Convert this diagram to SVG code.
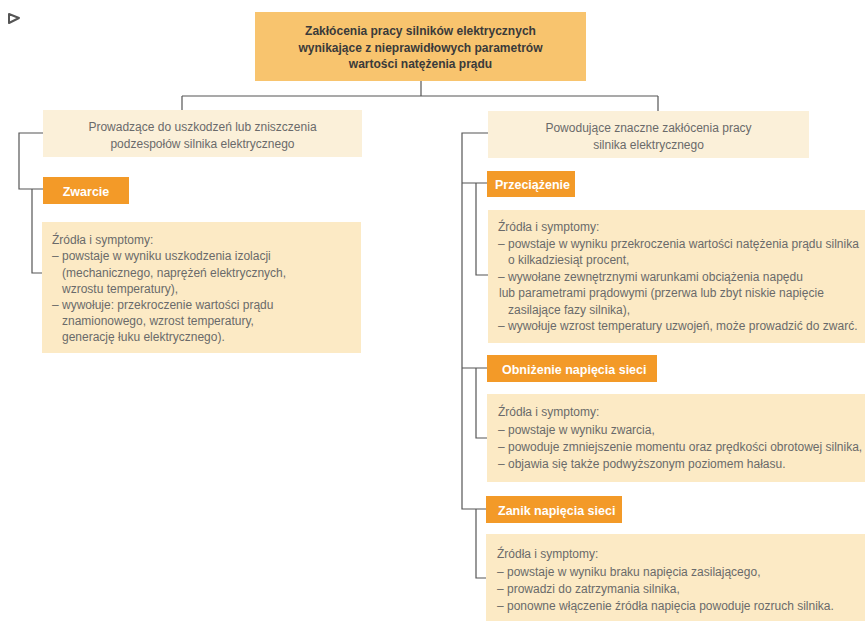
<svg xmlns="http://www.w3.org/2000/svg" width="865" height="621" viewBox="0 0 865 621">
<style>
.title{fill:#F8C46E}
.cat{fill:#FBF0D9}
.lab{fill:#F39A28}
.det{fill:#FCEAC5}
.tt{font-family:"Liberation Sans",Arial,sans-serif;font-size:12px;font-weight:bold;fill:#3a3a3a;text-anchor:middle}
.ct{font-family:"Liberation Sans",Arial,sans-serif;font-size:12px;fill:#6a6a6a;text-anchor:middle}
.lt{font-family:"Liberation Sans",Arial,sans-serif;font-size:12.5px;font-weight:bold;fill:#ffffff}
.dt{font-family:"Liberation Sans",Arial,sans-serif;font-size:12px;fill:#6a6a6a}
.con{fill:none;stroke:#555;stroke-width:1.2}
</style>
<path d="M9,14 L19,18 L9,23 Z" fill="none" stroke="#555" stroke-width="2" stroke-linejoin="round"/>
<g id="connectors" class="con">
<path d="M421,81 V96 M182,96 H658 M182,96 V110 M658,96 V111"/>
<path d="M43,133 H19 V189 H43 M32,189 V273 H42"/>
<path d="M488,133 H462 V509 H486 M462,183 H487 M476,183 V275 H488 M462,368 H487 M476,368 V438 H487 M476,509 V578 H486"/>
</g>
<g id="root">
<rect class="title" x="255" y="12" width="331" height="69"/>
<text class="tt" x="420.5" y="35">Zakłócenia pracy silników elektrycznych</text>
<text class="tt" x="420.5" y="52">wynikające z nieprawidłowych parametrów</text>
<text class="tt" x="420.5" y="68">wartości natężenia prądu</text>
</g>
<g id="cat-left">
<rect class="cat" x="43" y="110" width="319" height="47"/>
<text class="ct" x="202.5" y="131">Prowadzące do uszkodzeń lub zniszczenia</text>
<text class="ct" x="202.5" y="148">podzespołów silnika elektrycznego</text>
</g>
<g id="cat-right">
<rect class="cat" x="488" y="111" width="321" height="47"/>
<text class="ct" x="648.5" y="132">Powodujące znaczne zakłócenia pracy</text>
<text class="ct" x="648.5" y="149">silnika elektrycznego</text>
</g>
<g id="zwarcie">
<rect class="lab" x="43" y="177" width="86" height="27"/>
<text class="lt" x="86" y="195.5" text-anchor="middle">Zwarcie</text>
</g>
<g id="zwarcie-details">
<rect class="det" x="42" y="222" width="319" height="131"/>
<text class="dt" x="52" y="244">Źródła i symptomy:</text>
<text class="dt" x="52" y="260">– powstaje w wyniku uszkodzenia izolacji</text>
<text class="dt" x="62" y="276.5">(mechanicznego, naprężeń elektrycznych,</text>
<text class="dt" x="62" y="292.5">wzrostu temperatury),</text>
<text class="dt" x="52" y="308.5">– wywołuje: przekroczenie wartości prądu</text>
<text class="dt" x="62" y="325">znamionowego, wzrost temperatury,</text>
<text class="dt" x="62" y="341">generację łuku elektrycznego).</text>
</g>
<g id="przeciazenie">
<rect class="lab" x="487" y="171" width="88" height="26"/>
<text class="lt" x="495" y="188.5">Przeciążenie</text>
</g>
<g id="przeciazenie-details">
<rect class="det" x="488" y="210" width="377" height="133"/>
<text class="dt" x="498" y="231">Źródła i symptomy:</text>
<text class="dt" x="498" y="247.5">– powstaje w wyniku przekroczenia wartości natężenia prądu silnika</text>
<text class="dt" x="508" y="264">o kilkadziesiąt procent,</text>
<text class="dt" x="498" y="280.5">– wywołane zewnętrznymi warunkami obciążenia napędu</text>
<text class="dt" x="499" y="297">lub parametrami prądowymi (przerwa lub zbyt niskie napięcie</text>
<text class="dt" x="508" y="313.5">zasilające fazy silnika),</text>
<text class="dt" x="498" y="330">– wywołuje wzrost temperatury uzwojeń, może prowadzić do zwarć.</text>
</g>
<g id="obnizenie">
<rect class="lab" x="487" y="355" width="170" height="27"/>
<text class="lt" x="502" y="373.5">Obniżenie napięcia sieci</text>
</g>
<g id="obnizenie-details">
<rect class="det" x="487" y="394" width="378" height="88"/>
<text class="dt" x="498" y="416">Źródła i symptomy:</text>
<text class="dt" x="498" y="433.5">– powstaje w wyniku zwarcia,</text>
<text class="dt" x="498" y="450.5">– powoduje zmniejszenie momentu oraz prędkości obrotowej silnika,</text>
<text class="dt" x="498" y="467.5">– objawia się także podwyższonym poziomem hałasu.</text>
</g>
<g id="zanik">
<rect class="lab" x="486" y="496" width="136" height="27"/>
<text class="lt" x="498" y="514.5">Zanik napięcia sieci</text>
</g>
<g id="zanik-details">
<rect class="det" x="486" y="534" width="379" height="87"/>
<text class="dt" x="497" y="558">Źródła i symptomy:</text>
<text class="dt" x="497" y="575.5">– powstaje w wyniku braku napięcia zasilającego,</text>
<text class="dt" x="497" y="592.5">– prowadzi do zatrzymania silnika,</text>
<text class="dt" x="497" y="609.5">– ponowne włączenie źródła napięcia powoduje rozruch silnika.</text>
</g>
</svg>
